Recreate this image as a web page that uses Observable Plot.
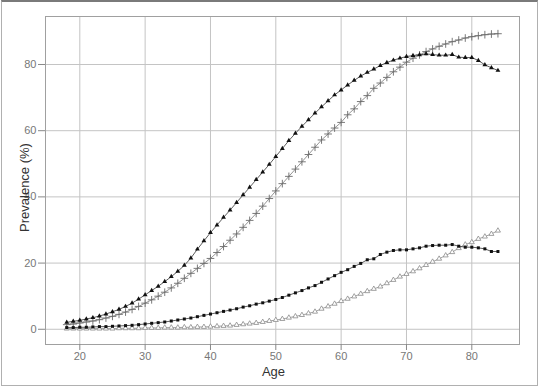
<!DOCTYPE html>
<html>
<head>
<meta charset="utf-8">
<script src="https://cdn.jsdelivr.net/npm/d3@7"></script>
<script src="https://cdn.jsdelivr.net/npm/@observablehq/plot@0.6"></script>
<style>
  html, body { margin: 0; padding: 0; background: #fff; }
  #wrap { position: relative; width: 540px; height: 387px; overflow: hidden; }
  #border { position: absolute; left: 1px; top: 0; width: 537px; height: 386px; box-sizing: border-box;
            border: 1px solid #b0b0b0; border-top: 2px solid #7a7a7a; pointer-events: none; }
</style>
</head>
<body>
<div id="wrap"><div id="border"></div></div>
<script>
const ages = [18,19,20,21,22,23,24,25,26,27,28,29,30,31,32,33,34,35,36,37,38,39,40,41,42,43,44,45,46,47,48,49,50,51,52,53,54,55,56,57,58,59,60,61,62,63,64,65,66,67,68,69,70,71,72,73,74,75,76,77,78,79,80,81,82,83,84];

const seriesA = [2.1,2.4,2.7,3.1,3.5,4.0,4.6,5.3,6.0,6.9,7.9,9.1,10.4,11.7,13.0,14.4,15.9,17.5,19.3,21.5,24.2,26.7,29.2,31.5,33.8,36.0,38.3,40.6,42.9,45.2,47.5,49.8,52.2,54.6,57.0,59.2,61.3,63.3,65.3,67.2,69.0,70.8,72.3,73.8,75.2,76.5,77.6,78.6,79.7,80.6,81.3,81.9,82.4,82.7,82.9,83.2,83.0,82.8,82.8,83.0,82.2,82.1,82.1,81.2,79.9,79.0,78.2];

const seriesB = [1.4,1.6,1.9,2.2,2.5,2.9,3.4,3.9,4.5,5.2,6.0,6.9,7.9,8.9,10.0,11.2,12.5,13.9,15.4,16.9,18.4,19.9,21.4,23.2,25.0,26.9,28.8,30.8,32.9,35.0,37.2,39.5,41.8,44.0,46.2,48.4,50.6,52.8,55.0,57.2,59.0,60.8,62.5,64.8,66.6,68.8,70.6,72.8,74.4,76.1,77.8,79.2,80.7,81.9,82.9,83.9,84.7,85.5,86.2,86.9,87.4,88.0,88.4,88.7,89.0,89.2,89.3];

const seriesC = [0.5,0.5,0.6,0.6,0.7,0.8,0.8,0.9,1.0,1.1,1.2,1.4,1.6,1.8,2.0,2.2,2.5,2.8,3.1,3.4,3.8,4.2,4.6,5.0,5.4,5.8,6.2,6.7,7.1,7.6,8.0,8.5,9.0,9.6,10.3,11.0,11.7,12.5,13.2,14.2,15.2,16.2,17.2,18.0,19.0,19.9,21.0,21.3,22.6,23.3,23.8,24.0,24.0,24.3,24.6,25.1,25.3,25.4,25.4,25.6,25.1,24.8,24.8,24.6,24.3,23.5,23.5];

const seriesD = [0.2,0.2,0.2,0.2,0.2,0.2,0.2,0.2,0.3,0.3,0.3,0.3,0.4,0.4,0.4,0.5,0.5,0.5,0.6,0.6,0.7,0.7,0.8,0.9,1.0,1.1,1.3,1.5,1.7,1.9,2.2,2.5,2.8,3.1,3.5,3.9,4.3,4.8,5.3,6.2,6.9,7.7,8.5,9.2,9.9,10.7,11.5,12.2,12.9,13.9,14.9,15.9,16.7,17.5,18.4,19.4,20.4,21.3,22.3,23.3,24.5,25.6,26.3,27.3,28.0,28.8,29.8];

const xTicks = [20,30,40,50,60,70,80];
const yTicks = [0,20,40,60,80];
const xLabel = "Age";
const yLabel = "Prevalence (%)";

const rows = (vals) => ages.map((a, i) => ({age: a, v: vals[i]}));
const dA = rows(seriesA), dB = rows(seriesB), dC = rows(seriesC), dD = rows(seriesD);

const chart = Plot.plot({
  width: 540,
  height: 387,
  marginLeft: 45,
  marginRight: 21,
  marginTop: 16,
  marginBottom: 43,
  style: {fontFamily: "'Liberation Sans', Arial, sans-serif", background: "transparent", overflow: "visible"},
  x: {domain: [14.75, 87.3]},
  y: {domain: [-4.6, 94.5]},
  marks: [
    Plot.gridX(xTicks, {stroke: "#c4c4c4", strokeOpacity: 1}),
    Plot.gridY(yTicks, {stroke: "#c4c4c4", strokeOpacity: 1}),
    Plot.frame({stroke: "#a0a0a0"}),
    Plot.axisX(xTicks, {tickSize: 6, tickPadding: 2, fontSize: 11, color: "#777", stroke: "#888", label: null}),
    Plot.axisY(yTicks, {tickSize: 7, tickPadding: 2, fontSize: 11, color: "#777", stroke: "#888", label: null}),
    Plot.line(dD, {x: "age", y: "v", stroke: "#8a8a8a", strokeWidth: 0.8}),
    Plot.dot(dD, {x: "age", y: "v", symbol: "triangle2", r: 2.4, stroke: "#8a8a8a", fill: "white", strokeWidth: 0.8}),
    Plot.line(dB, {x: "age", y: "v", stroke: "#7a7a7a", strokeWidth: 0.8}),
    Plot.dot(dB, {x: "age", y: "v", symbol: "plus", r: 2.6, stroke: "#6a6a6a", strokeWidth: 0.9}),
    Plot.line(dC, {x: "age", y: "v", stroke: "#333", strokeWidth: 0.8}),
    Plot.dot(dC, {x: "age", y: "v", symbol: "square", r: 1.7, fill: "#111", stroke: "none"}),
    Plot.line(dA, {x: "age", y: "v", stroke: "#333", strokeWidth: 0.8}),
    Plot.dot(dA, {x: "age", y: "v", symbol: "triangle", r: 1.8, fill: "#111", stroke: "none"}),
    Plot.text([xLabel], {frameAnchor: "bottom", text: d => d, dx: -9, dy: 27, lineAnchor: "middle", textAnchor: "middle", fontSize: 13, fill: "#333"}),
    Plot.text([yLabel], {frameAnchor: "left", text: d => d, rotate: -90, dx: -21, dy: 7, lineAnchor: "middle", textAnchor: "middle", fontSize: 13, fill: "#333"})
  ]
});
document.getElementById("wrap").insertBefore(chart, document.getElementById("border"));
</script>
</body>
</html>
